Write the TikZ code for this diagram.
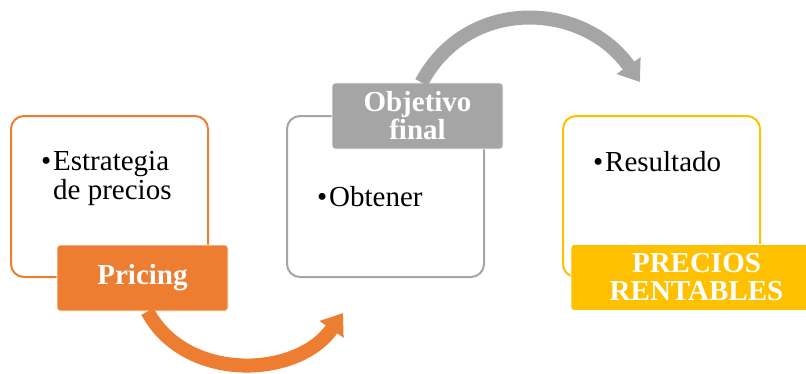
\documentclass[tikz,border=0pt]{standalone}
\usepackage{fontspec}
\setmainfont{Liberation Serif}
\usetikzlibrary{arrows.meta}
\definecolor{pOrange}{HTML}{ED7D31}
\definecolor{pGray}{HTML}{A5A5A5}
\definecolor{pYellow}{HTML}{FFC000}
\tikzset{
	stage/.style={draw=#1, line width=2pt, rounded corners=13pt, fill=white,
		minimum width=197pt, minimum height=161pt},
	tag/.style={fill=#1, draw=white, line width=0.8pt, rounded corners=3pt,
		text=white, align=center, inner sep=0pt, minimum height=66pt,
		font=\bfseries\fontsize{29}{28}\selectfont},
	itemtext/.style={anchor=north west, align=left, inner sep=0pt,
		font=\fontsize{29}{29}\selectfont},
	bigarrow/.style={draw=#1, line width=14pt,
		-{Triangle[length=20pt,width=28pt]}},
}
\newcommand{\itm}{\llap{\textbullet\hspace{2pt}}}
\begin{document}
\begin{tikzpicture}[x=1pt,y=1pt]
\useasboundingbox (0,0) rectangle (806,373);
% the three stages
\foreach \cx/\mycol/\nm in {109.5/pOrange/strategy,385.5/pGray/goal,661.5/pYellow/result} {
	\node[stage=\mycol] (\nm) at (\cx,176.5) {};
}
\node[itemtext] (strategytxt) at (53,222) {\itm Estrategia\\de precios};
\node[itemtext] (goaltxt) at (329,187) {\itm Obtener};
\node[itemtext] (resulttxt) at (605,222) {\itm Resultado};

\node[tag=pOrange, minimum width=171pt] (pricing) at (142.5,95) {Pricing};
\node[tag=pGray, minimum width=171pt] (goaltag) at (417.5,257) {Objetivo\\final};
\node[tag=pYellow, minimum width=251pt] (resulttag) at (696.5,95.5) {PRECIOS\\RENTABLES};

% curved arrows between the stages
\coordinate (goalend) at (343,60);
\coordinate (resultend) at (640,291);
\draw[bigarrow=pOrange] ([xshift=5pt]pricing.south) to[out=-62,in=235,looseness=1.05] (goalend);
\draw[bigarrow=pGray] ([xshift=4pt]goaltag.north) to[out=62,in=125,looseness=1.15] (resultend);
\end{tikzpicture}
\end{document}
